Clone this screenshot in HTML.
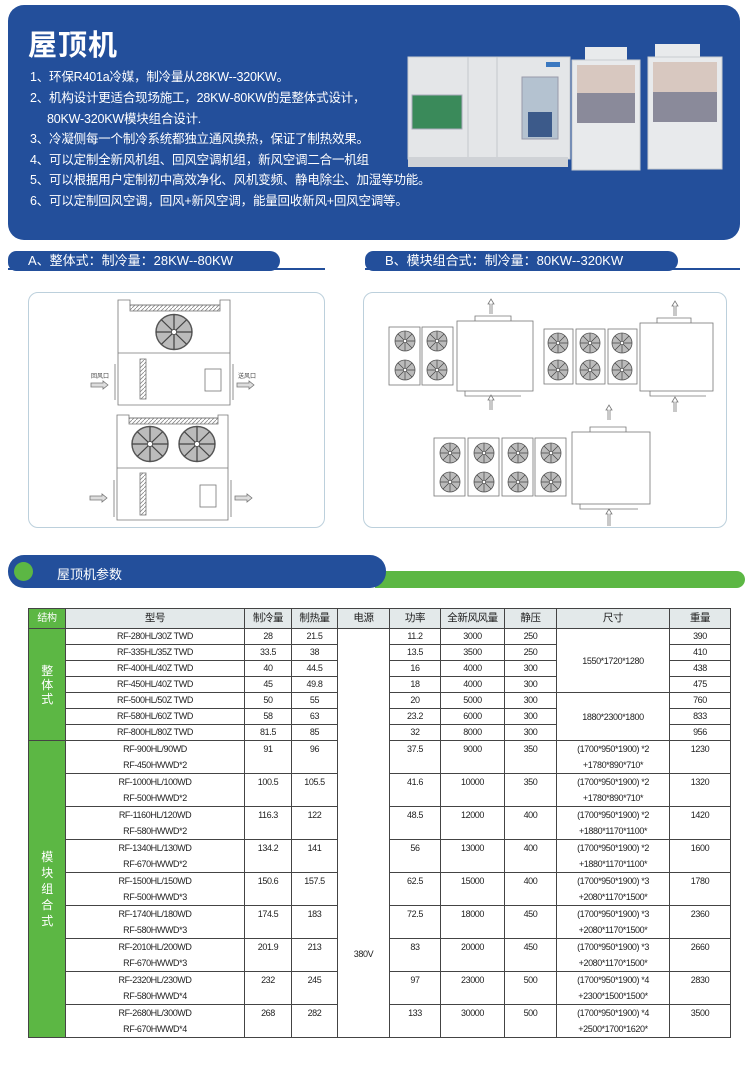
<!DOCTYPE html>
<html><head><meta charset="utf-8">
<style>
*{margin:0;padding:0;box-sizing:border-box}
body{width:750px;height:1065px;background:#fff;position:relative;overflow:hidden;font-family:"Liberation Sans","Noto Sans CJK SC",sans-serif}
.abs{position:absolute}
#hero{left:8px;top:5px;width:732px;height:235px;background:#234f9b;border-radius:16px}
#title{left:28px;top:22px;color:#fff;font-size:29px;font-weight:bold;letter-spacing:1px}
.ln{position:absolute;left:30px;color:#fff;font-size:12.5px;white-space:nowrap;letter-spacing:-0.2px}
.tab{position:absolute;height:20px;background:#234f9b;color:#fff;font-size:13px;line-height:20px;border-radius:10px 12px 12px 10px;padding-left:20px}
.uline{position:absolute;height:2px;background:#234f9b}
.dbox{position:absolute;border:1.5px solid #bcd0dc;border-radius:10px;top:292px;height:236px}
table{position:absolute;left:28px;top:608px;border-collapse:collapse;table-layout:fixed;font-size:9px;letter-spacing:-0.4px;color:#222}
td{border:1.5px solid #444;text-align:center;vertical-align:top;padding:0;line-height:15px;white-space:nowrap;overflow:hidden}
tr.h td{background:#e3e9ea;font-size:10.5px;line-height:18px;height:20px}
tr.h td.g{background:#5cb744;color:#fff}
tr.s td{height:16px;line-height:14px}
tr.d td{height:33px;line-height:16px}
td.g{background:#5cb744;color:#fff;vertical-align:middle;font-size:12px;line-height:14px;white-space:normal}
</style></head><body>
<div id="hero" class="abs"></div>
<div id="title" class="abs">屋顶机</div>
<div class="ln" style="top:66px">1、环保R401a冷媒，制冷量从28KW--320KW。</div>
<div class="ln" style="top:87px">2、机构设计更适合现场施工，28KW-80KW的是整体式设计，</div>
<div class="ln" style="top:108px;left:47px">80KW-320KW模块组合设计.</div>
<div class="ln" style="top:128px">3、冷凝侧每一个制冷系统都独立通风换热，保证了制热效果。</div>
<div class="ln" style="top:149px">4、可以定制全新风机组、回风空调机组，新风空调二合一机组</div>
<div class="ln" style="top:169px">5、可以根据用户定制初中高效净化、风机变频、静电除尘、加湿等功能。</div>
<div class="ln" style="top:190px">6、可以定制回风空调，回风+新风空调，能量回收新风+回风空调等。</div>

<svg class="abs" style="left:400px;top:40px" width="330" height="140">
 <rect x="8" y="17" width="162" height="102" fill="#e4e6e8" stroke="#c9ccd0"/>
 <rect x="8" y="117" width="160" height="10" fill="#cfd2d6"/>
 <line x1="68" y1="17" x2="68" y2="117" stroke="#c4c8cc"/>
 <line x1="97" y1="17" x2="97" y2="117" stroke="#c4c8cc"/>
 <rect x="12" y="55" width="50" height="34" fill="#3a8a5a" stroke="#aab"/>
 <rect x="122" y="37" width="36" height="62" fill="#b4c2d0" stroke="#99a"/>
 <rect x="128" y="72" width="24" height="25" fill="#3c5a8a"/>
 <rect x="146" y="22" width="14" height="5" fill="#3b78c0"/>
 <rect x="185" y="7" width="42" height="15" fill="#e8eaec"/>
 <rect x="172" y="20" width="68" height="110" fill="#e8eaec" stroke="#c9ccd0"/>
 <rect x="177" y="25" width="58" height="28" fill="#d8c8c0"/>
 <rect x="177" y="53" width="58" height="30" fill="#8a8a9a"/>
 <rect x="255" y="4" width="45" height="15" fill="#e8eaec"/>
 <rect x="248" y="17" width="74" height="112" fill="#e8eaec" stroke="#c9ccd0"/>
 <rect x="253" y="22" width="64" height="30" fill="#d8c8c0"/>
 <rect x="253" y="52" width="64" height="30" fill="#8a8a9a"/>
</svg>

<div class="uline" style="left:8px;top:268px;width:317px"></div>
<div class="tab" style="left:8px;top:251px;width:272px">A、整体式：制冷量：28KW--80KW</div>
<div class="uline" style="left:365px;top:268px;width:375px"></div>
<div class="tab" style="left:365px;top:251px;width:313px">B、模块组合式：制冷量：80KW--320KW</div>

<div class="dbox" style="left:28px;width:297px"></div>
<div class="dbox" style="left:363px;width:364px"></div>

<svg class="abs" style="left:0;top:0" width="750" height="540">
<defs>
 <g id="fan"><circle r="10" fill="#bbb" stroke="#555" stroke-width="0.8"/>
  <path d="M-10 0H10M0-10V10M-7-7L7 7M-7 7L7-7" stroke="#444" stroke-width="0.7"/><circle r="1.5" fill="#fff" stroke="#444" stroke-width="0.5"/></g>
 <pattern id="hat" width="4" height="4" patternUnits="userSpaceOnUse"><path d="M0 4L4 0" stroke="#888" stroke-width="0.8"/></pattern>
</defs>
<g fill="none" stroke="#777" stroke-width="0.8">
 <!-- left top unit -->
 <path d="M118 300H130V305H220V300H230V405H118Z" fill="#fff"/>
 <rect x="130" y="305" width="90" height="6" fill="url(#hat)"/>
 <line x1="118" y1="353" x2="230" y2="353"/>
 <rect x="140" y="359" width="6" height="40" fill="url(#hat)"/>
 <rect x="205" y="369" width="16" height="22"/>
 <line x1="115" y1="364" x2="115" y2="400"/><line x1="233" y1="364" x2="233" y2="400"/>
 <path d="M91 383h12v-2l5 4-5 4v-2h-12z" fill="#ddd"/>
 <path d="M237 383h12v-2l5 4-5 4v-2h-12z" fill="#ddd"/>
 <!-- left bottom unit -->
 <path d="M117 415H129V418H218V415H228V520H117Z" fill="#fff"/>
 <rect x="129" y="418" width="89" height="6" fill="url(#hat)"/>
 <line x1="117" y1="468" x2="228" y2="468"/>
 <rect x="140" y="473" width="6" height="42" fill="url(#hat)"/>
 <rect x="200" y="485" width="16" height="22"/>
 <line x1="114" y1="480" x2="114" y2="517"/><line x1="231" y1="480" x2="231" y2="517"/>
 <path d="M90 496h12v-2l5 4-5 4v-2h-12z" fill="#ddd"/>
 <path d="M235 496h12v-2l5 4-5 4v-2h-12z" fill="#ddd"/>
 <!-- right group 1 -->
 <rect x="389" y="327" width="31" height="58"/><rect x="422" y="327" width="31" height="58"/>
 <rect x="457" y="321" width="76" height="70" fill="#fff"/>
 <path d="M475 321v-5h36v5M475 316h36M465 391v5h56M490 314v-10h-2l3-5 3 5h-2v10"/>
 <path d="M490 410v-10h-2l3-5 3 5h-2v10"/>
 <!-- group 2 -->
 <rect x="544" y="329" width="29" height="55"/><rect x="576" y="329" width="29" height="55"/><rect x="608" y="329" width="29" height="55"/>
 <rect x="640" y="323" width="73" height="68" fill="#fff"/>
 <path d="M657 323v-5h34v5M657 318h34M650 391v5h56M674 316v-10h-2l3-5 3 5h-2v10M674 412v-10h-2l3-5 3 5h-2v10"/>
 <!-- group 3 -->
 <rect x="434" y="438" width="31" height="58"/><rect x="468" y="438" width="31" height="58"/><rect x="502" y="438" width="31" height="58"/><rect x="535" y="438" width="31" height="58"/>
 <rect x="572" y="432" width="78" height="72" fill="#fff"/>
 <path d="M590 432v-5h36v5M590 427h36M580 504v5h58M608 420v-10h-2l3-5 3 5h-2v10M608 526v-12h-2l3-5 3 5h-2v12"/>
</g>
<use href="#fan" transform="translate(174,332) scale(1.8,1.75)"/>
<use href="#fan" transform="translate(150,444) scale(1.8,1.75)"/>
<use href="#fan" transform="translate(197,444) scale(1.8,1.75)"/>
<g>
 <use href="#fan" x="405" y="341"/><use href="#fan" x="405" y="370"/><use href="#fan" x="437" y="341"/><use href="#fan" x="437" y="370"/>
 <use href="#fan" x="558" y="343"/><use href="#fan" x="558" y="370"/><use href="#fan" x="590" y="343"/><use href="#fan" x="590" y="370"/><use href="#fan" x="622" y="343"/><use href="#fan" x="622" y="370"/>
 <use href="#fan" x="450" y="453"/><use href="#fan" x="450" y="482"/><use href="#fan" x="484" y="453"/><use href="#fan" x="484" y="482"/><use href="#fan" x="518" y="453"/><use href="#fan" x="518" y="482"/><use href="#fan" x="551" y="453"/><use href="#fan" x="551" y="482"/>
</g>
<text x="91" y="378" font-size="6" fill="#444" font-family="Liberation Sans,Noto Sans CJK SC,sans-serif">回风口</text>
<text x="238" y="378" font-size="6" fill="#444" font-family="Liberation Sans,Noto Sans CJK SC,sans-serif">送风口</text>
</svg>

<!-- section header -->
<div class="abs" style="left:375px;top:571px;width:370px;height:17px;background:#5cb744;border-radius:0 9px 9px 0"></div>
<div class="abs" style="left:8px;top:555px;width:378px;height:33px;background:#234f9b;border-radius:16px"></div>
<div class="abs" style="left:14px;top:562px;width:19px;height:19px;background:#5cb744;border-radius:50%"></div>
<div class="abs" style="left:57px;top:564px;color:#fff;font-size:13px">屋顶机参数</div>

<table>
<colgroup><col style="width:37px"><col style="width:179px"><col style="width:47px"><col style="width:46px"><col style="width:52px"><col style="width:51px"><col style="width:64px"><col style="width:52px"><col style="width:113px"><col style="width:61px"></colgroup>
<tr class="h"><td class="g" style="font-size:10px">结构</td><td>型号</td><td>制冷量</td><td>制热量</td><td>电源</td><td>功率</td><td>全新风风量</td><td>静压</td><td>尺寸</td><td>重量</td></tr>
<tr class="s"><td class="g" rowspan="7">整<br>体<br>式</td><td>RF-280HL/30Z TWD</td><td>28</td><td>21.5</td><td rowspan="16" style="vertical-align:top;padding-top:318px;background:#fff">380V</td><td>11.2</td><td>3000</td><td>250</td><td rowspan="4" style="vertical-align:middle">1550*1720*1280</td><td>390</td></tr>
<tr class="s"><td>RF-335HL/35Z TWD</td><td>33.5</td><td>38</td><td>13.5</td><td>3500</td><td>250</td><td>410</td></tr>
<tr class="s"><td>RF-400HL/40Z TWD</td><td>40</td><td>44.5</td><td>16</td><td>4000</td><td>300</td><td>438</td></tr>
<tr class="s"><td>RF-450HL/40Z TWD</td><td>45</td><td>49.8</td><td>18</td><td>4000</td><td>300</td><td>475</td></tr>
<tr class="s"><td>RF-500HL/50Z TWD</td><td>50</td><td>55</td><td>20</td><td>5000</td><td>300</td><td rowspan="3" style="vertical-align:middle">1880*2300*1800</td><td>760</td></tr>
<tr class="s"><td>RF-580HL/60Z TWD</td><td>58</td><td>63</td><td>23.2</td><td>6000</td><td>300</td><td>833</td></tr>
<tr class="s"><td>RF-800HL/80Z TWD</td><td>81.5</td><td>85</td><td>32</td><td>8000</td><td>300</td><td>956</td></tr>
<tr class="d"><td class="g" rowspan="9">模<br>块<br>组<br>合<br>式</td><td>RF-900HL/90WD<br>RF-450HWWD*2</td><td>91</td><td>96</td><td>37.5</td><td>9000</td><td>350</td><td>(1700*950*1900) *2<br>+1780*890*710*</td><td>1230</td></tr>
<tr class="d"><td>RF-1000HL/100WD<br>RF-500HWWD*2</td><td>100.5</td><td>105.5</td><td>41.6</td><td>10000</td><td>350</td><td>(1700*950*1900) *2<br>+1780*890*710*</td><td>1320</td></tr>
<tr class="d"><td>RF-1160HL/120WD<br>RF-580HWWD*2</td><td>116.3</td><td>122</td><td>48.5</td><td>12000</td><td>400</td><td>(1700*950*1900) *2<br>+1880*1170*1100*</td><td>1420</td></tr>
<tr class="d"><td>RF-1340HL/130WD<br>RF-670HWWD*2</td><td>134.2</td><td>141</td><td>56</td><td>13000</td><td>400</td><td>(1700*950*1900) *2<br>+1880*1170*1100*</td><td>1600</td></tr>
<tr class="d"><td>RF-1500HL/150WD<br>RF-500HWWD*3</td><td>150.6</td><td>157.5</td><td>62.5</td><td>15000</td><td>400</td><td>(1700*950*1900) *3<br>+2080*1170*1500*</td><td>1780</td></tr>
<tr class="d"><td>RF-1740HL/180WD<br>RF-580HWWD*3</td><td>174.5</td><td>183</td><td>72.5</td><td>18000</td><td>450</td><td>(1700*950*1900) *3<br>+2080*1170*1500*</td><td>2360</td></tr>
<tr class="d"><td>RF-2010HL/200WD<br>RF-670HWWD*3</td><td>201.9</td><td>213</td><td>83</td><td>20000</td><td>450</td><td>(1700*950*1900) *3<br>+2080*1170*1500*</td><td>2660</td></tr>
<tr class="d"><td>RF-2320HL/230WD<br>RF-580HWWD*4</td><td>232</td><td>245</td><td>97</td><td>23000</td><td>500</td><td>(1700*950*1900) *4<br>+2300*1500*1500*</td><td>2830</td></tr>
<tr class="d"><td>RF-2680HL/300WD<br>RF-670HWWD*4</td><td>268</td><td>282</td><td>133</td><td>30000</td><td>500</td><td>(1700*950*1900) *4<br>+2500*1700*1620*</td><td>3500</td></tr>
</table>
</body></html>
